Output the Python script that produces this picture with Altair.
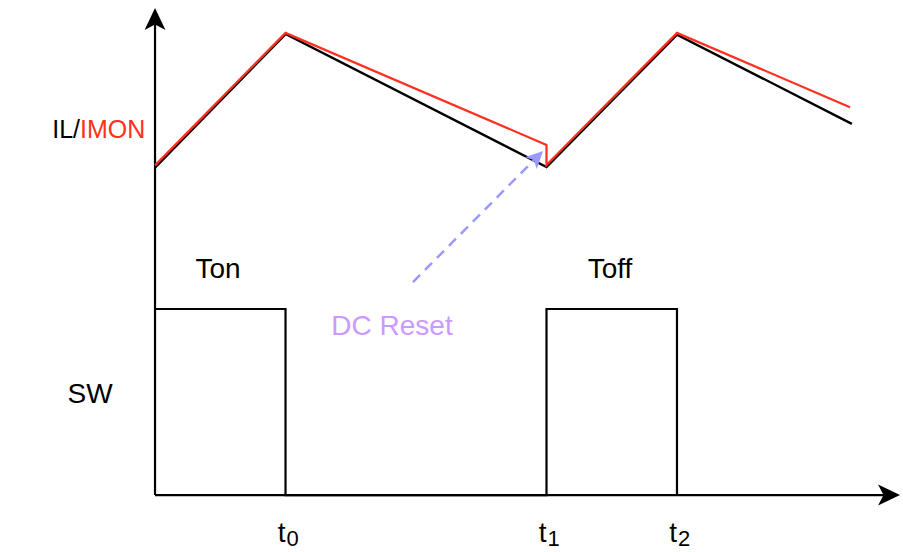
import altair as alt
import pandas as pd

# Time is measured in units of the on-time (t0 = 1); amplitude in units of the SW high level.
FONT = "Liberation Sans"
RED = "#FF3020"
VIOLET_TEXT = "#CC99FF"
VIOLET_ARROW = "#9999FF"

# visible window of the drawing (time, amplitude)
X_MIN, X_MAX = -1.188, 5.732
Y_MIN, Y_MAX = -0.306, 2.661

# switching instants
t_marks = [1.0, 3.0, 4.0]
t_subs = ["0", "1", "2"]

# inductor current IL (black)
il_t = [0.0, 1.0, 3.0, 4.0, 5.34]
il_v = [1.76, 2.478, 1.763, 2.475, 1.995]

# current monitor IMON (red) with its DC reset step at t1
imon_t = [0.0, 1.0, 3.0, 3.0, 4.0, 5.326]
imon_v = [1.772, 2.484, 1.882, 1.774, 2.484, 2.085]

# switch node SW
sw_t = [0.0, 1.0, 1.0, 3.0, 3.0, 4.0, 4.0]
sw_v = [1.0, 1.0, 0.0, 0.0, 1.0, 1.0, 0.0]

# axis extents (arrowhead centres)
x_axis_end = 5.625
y_axis_end = 2.559

# DC reset pointer: dashed shaft start and arrowhead centre
reset_from = (1.977, 1.145)
reset_to = (2.927, 1.817)

xs = alt.Scale(domain=[X_MIN, X_MAX], nice=False, zero=False)
ys = alt.Scale(domain=[Y_MIN, Y_MAX], nice=False, zero=False)


def enc(**kw):
    return dict(
        x=alt.X("t:Q", scale=xs, axis=None),
        y=alt.Y("v:Q", scale=ys, axis=None),
        **kw,
    )


def path_df(ts, vs):
    return pd.DataFrame({"t": ts, "v": vs, "i": list(range(len(ts)))})


ARROW = "M0,-1 L0.95,1 L0,0.5 L-0.95,1 Z"

axes = alt.Chart(
    pd.DataFrame({
        "t": [0, x_axis_end, 0, 0],
        "v": [0, 0, 0, y_axis_end],
        "g": ["x", "x", "y", "y"],
        "i": [0, 1, 0, 1],
    })
).mark_line(color="black", strokeWidth=2.2).encode(**enc(detail="g:N", order="i:Q"))

axis_heads = alt.Chart(
    pd.DataFrame({"t": [x_axis_end, 0], "v": [0, y_axis_end], "a": [90, 0]})
).mark_point(shape=ARROW, filled=True, size=484, color="black", opacity=1).encode(
    **enc(angle=alt.Angle("a:Q", scale=None))
)

sw = alt.Chart(path_df(sw_t, sw_v)).mark_line(color="black", strokeWidth=2.2).encode(
    **enc(order="i:Q")
)
il = alt.Chart(path_df(il_t, il_v)).mark_line(color="black", strokeWidth=2.4).encode(
    **enc(order="i:Q")
)
imon = alt.Chart(path_df(imon_t, imon_v)).mark_line(color=RED, strokeWidth=2.2).encode(
    **enc(order="i:Q")
)

reset_line = alt.Chart(
    pd.DataFrame({"t": [reset_from[0], reset_to[0]], "v": [reset_from[1], reset_to[1]], "i": [0, 1]})
).mark_line(color=VIOLET_ARROW, strokeWidth=2.5, strokeDash=[10, 7]).encode(**enc(order="i:Q"))

reset_head = alt.Chart(
    pd.DataFrame({"t": [reset_to[0]], "v": [reset_to[1]]})
).mark_point(shape=ARROW, filled=True, size=300, color=VIOLET_ARROW, opacity=1, angle=45).encode(**enc())


def label(text, t, v, color="black", align="center", size=28, dx=0):
    return alt.Chart(pd.DataFrame({"t": [t], "v": [v], "s": [text]})).mark_text(
        font=FONT, fontSize=size, color=color, align=align, baseline="alphabetic", dx=dx
    ).encode(**enc(text="s:N"))


labels = [
    label("IL/", -0.575, 1.919, align="right", size=25),
    label("IMON", -0.575, 1.919, color=RED, align="left", size=25),
    label("SW", -0.498, 0.495),
    label("Ton", 0.483, 1.167),
    label("Toff", 3.487, 1.167),
    label("DC Reset", 1.816, 0.86, color=VIOLET_TEXT),
]
for tm, sub in zip(t_marks, t_subs):
    labels.append(label("t", tm, -0.253, align="right", dx=0))
    labels.append(label(sub, tm, -0.274, align="left", size=22, dx=1))

chart = alt.layer(
    axes, axis_heads, sw, il, imon, reset_line, reset_head, *labels
).properties(
    width=903, height=552, padding=0, autosize=alt.AutoSizeParams(type="none"), background="white"
).configure_view(strokeWidth=0)

chart.save("out.html", embed_options={"renderer": "svg", "actions": False})
